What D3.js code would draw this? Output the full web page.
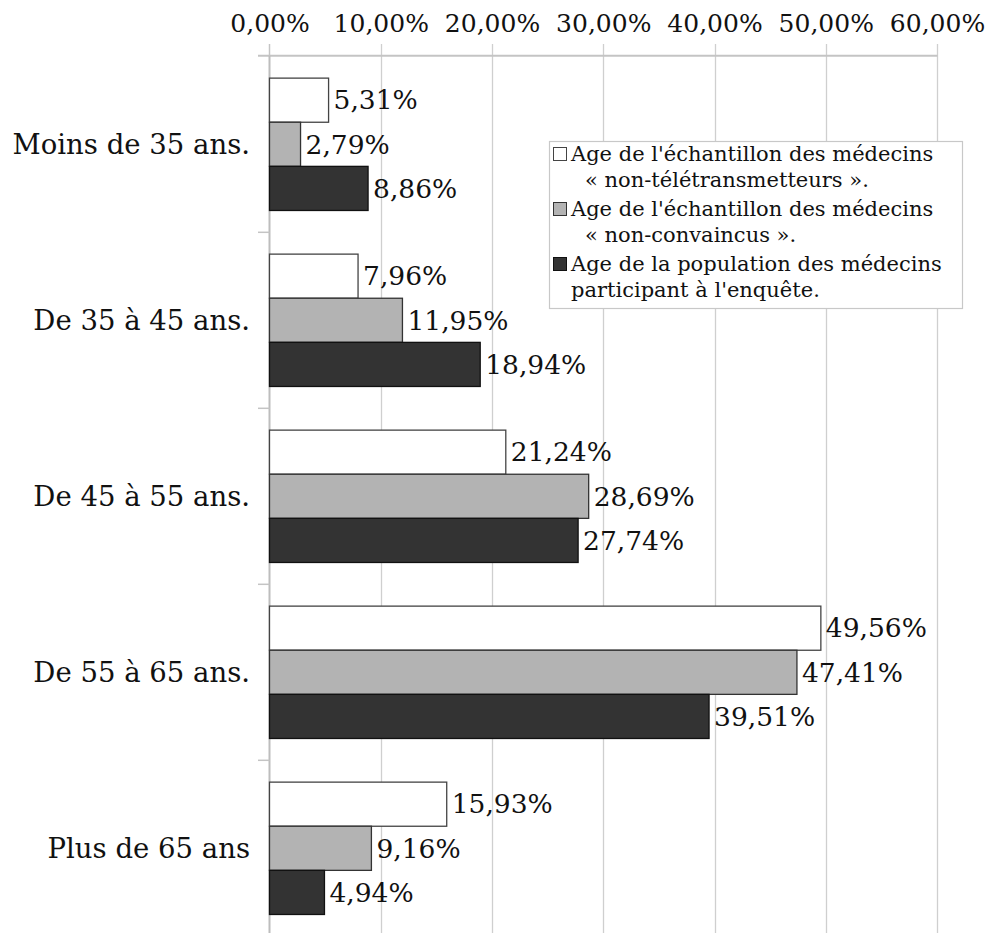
<!DOCTYPE html>
<html><head><meta charset="utf-8">
<script src="https://cdn.jsdelivr.net/npm/d3@7"></script>
<style>
html,body{margin:0;padding:0;background:#fff;}
svg{display:block;}
text{font-family:"DejaVu Serif",serif;fill:#111;}
</style></head>
<body>
<svg id="c" width="991" height="933"></svg>
<script>
const categories = ["Moins de 35 ans.", "De 35 à 45 ans.", "De 45 à 55 ans.", "De 55 à 65 ans.", "Plus de 65 ans"];
const seriesNames = [
  ["Age de l'échantillon des médecins", "« non-télétransmetteurs »."],
  ["Age de l'échantillon des médecins", "« non-convaincus »."],
  ["Age de la population des médecins", "participant à l'enquête."]
];
const nonTeletransmetteurs = [5.31, 7.96, 21.24, 49.56, 15.93];
const nonConvaincus = [2.79, 11.95, 28.69, 47.41, 9.16];
const population = [8.86, 18.94, 27.74, 39.51, 4.94];
const tickValues = [0, 10, 20, 30, 40, 50, 60];
const seriesValues = [nonTeletransmetteurs, nonConvaincus, population];
const fills = ["#ffffff", "#b3b3b3", "#333333"];
const strokes = ["#444444", "#333333", "#111111"];

const svg = d3.select("#c");
const fmt = v => v.toFixed(2).replace(".", ",") + "%";

const x = d3.scaleLinear().domain([0, 60]).range([269.5, 937]);
const y = d3.scaleBand().domain(categories).range([56.3, 936.3]).paddingInner(0.248).paddingOuter(0.124);
const y1 = d3.scaleBand().domain([0,1,2]).range([0, y.bandwidth()]);

// gridlines
svg.append("g").selectAll("line").data(tickValues.slice(1)).join("line")
  .attr("x1", d => Math.round(x(d)) + 0.5).attr("x2", d => Math.round(x(d)) + 0.5)
  .attr("y1", 44).attr("y2", 933)
  .attr("stroke", "#cfcfcf").attr("stroke-width", 1.3);

// top axis
const xAxis = d3.axisTop(x).tickValues(tickValues).tickFormat(d => fmt(d)).tickSize(0).tickPadding(0);
const gx = svg.append("g").attr("transform", "translate(0,55.7)").call(xAxis);
gx.select(".domain").remove();
gx.selectAll("text").attr("font-size", 25).attr("font-family", "DejaVu Serif").attr("fill", "#111").attr("y", -24).attr("dy", 0);
svg.append("line").attr("x1", 258).attr("x2", 937.5).attr("y1", 55.7).attr("y2", 55.7).attr("stroke", "#c4c4c4").attr("stroke-width", 2);
svg.append("line").attr("x1", x(0)).attr("x2", x(0)).attr("y1", 44).attr("y2", 55).attr("stroke", "#c4c4c4").attr("stroke-width", 1.5);

// left axis
const step = y.step();
svg.append("line").attr("x1", x(0)).attr("x2", x(0)).attr("y1", 55.7).attr("y2", 933).attr("stroke", "#bdbdbd").attr("stroke-width", 2);
svg.append("g").selectAll("line").data(d3.range(1, categories.length)).join("line")
  .attr("x1", 258).attr("x2", x(0)).attr("y1", i => y.range()[0] + i * step).attr("y2", i => y.range()[0] + i * step)
  .attr("stroke", "#c4c4c4").attr("stroke-width", 1.5);

// category labels
svg.append("g").selectAll("text").data(categories).join("text")
  .attr("x", 250).attr("y", d => y(d) + y.bandwidth() / 2).attr("dy", "0.35em")
  .attr("text-anchor", "end").attr("font-size", 27.5).text(d => d);

// bars
const groups = svg.append("g").selectAll("g").data(categories).join("g")
  .attr("transform", d => `translate(0,${y(d)})`);
groups.selectAll("rect").data((d, i) => seriesValues.map((s, k) => ({k, v: s[i]}))).join("rect")
  .attr("x", x(0)).attr("y", d => y1(d.k)).attr("width", d => x(d.v) - x(0)).attr("height", y1.bandwidth())
  .attr("fill", d => fills[d.k]).attr("stroke", d => strokes[d.k]).attr("stroke-width", 1.3);
groups.selectAll("text").data((d, i) => seriesValues.map((s, k) => ({k, v: s[i]}))).join("text")
  .attr("x", d => x(d.v) + 5).attr("y", d => y1(d.k) + y1.bandwidth() / 2).attr("dy", "0.35em")
  .attr("font-size", 26.5).text(d => fmt(d.v));

// legend
const lg = svg.append("g").attr("transform", "translate(549,141)");
lg.append("rect").attr("x", 0.5).attr("y", 0.5).attr("width", 413).attr("height", 167).attr("fill", "#fff").attr("stroke", "#c8c8c8").attr("stroke-width", 1.2);
seriesNames.forEach((lines, k) => {
  const top = 5 + k * 55;
  lg.append("rect").attr("x", 4.5).attr("y", top + 1.5).attr("width", 13).attr("height", 13)
    .attr("fill", fills[k]).attr("stroke", strokes[k]).attr("stroke-width", 1);
  lines.forEach((t, j) => {
    lg.append("text").attr("x", j === 1 && k < 2 ? 36 : 22).attr("y", top + 15 + j * 26)
      .attr("font-size", 21).text(t);
  });
});
</script>
</body></html>
